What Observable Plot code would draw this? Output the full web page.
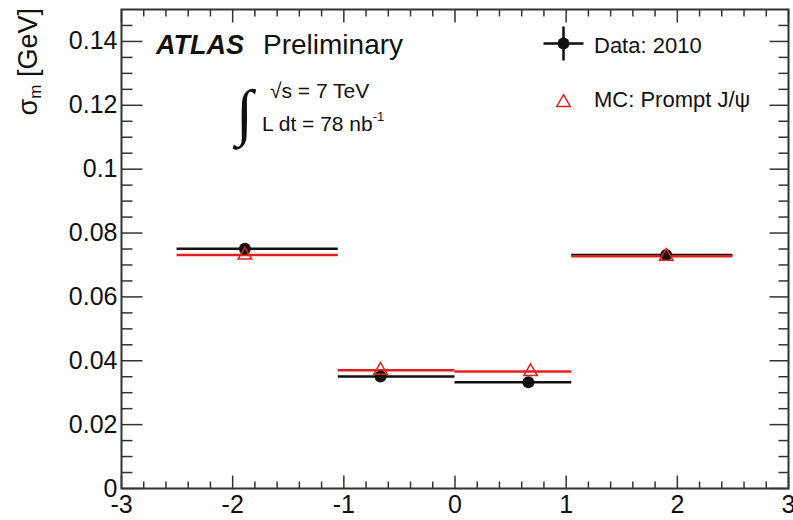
<!DOCTYPE html>
<html><head><meta charset="utf-8">
<script src="https://cdn.jsdelivr.net/npm/d3@7"></script>
<script src="https://cdn.jsdelivr.net/npm/@observablehq/plot@0.6"></script>
<style>body{margin:0;background:#fff} #chart{width:793px;height:520px}</style>
</head><body><div id="chart"></div>
<script>
// ---- data ----
const binLo = [-2.5, -1.05, 0, 1.05];
const binHi = [-1.05, 0, 1.05, 2.5];
const dataX = [-1.89, -0.67, 0.66, 1.9];
const dataY = [0.0751, 0.0351, 0.0333, 0.0731];
const mcX = [-1.89, -0.67, 0.68, 1.9];
const mcY = [0.0731, 0.0370, 0.0366, 0.0727];
const xMajor = [-3, -2, -1, 0, 1, 2, 3];
const xTickLabels = ["-3", "-2", "-1", "0", "1", "2", "3"];
const yMajor = [0, 0.02, 0.04, 0.06, 0.08, 0.1, 0.12, 0.14];
const yTickLabels = ["0", "0.02", "0.04", "0.06", "0.08", "0.1", "0.12", "0.14"];
const seriesNames = ["Data: 2010", "MC: Prompt J/\u03c8"];

const dataRows = binLo.map((lo, i) => ({lo, hi: binHi[i], x: dataX[i], y: dataY[i]}));
const mcRows = binLo.map((lo, i) => ({lo, hi: binHi[i], x: mcX[i], y: mcY[i]}));
const xMinor = d3.range(-15, 16).filter(i => i % 5 !== 0).map(i => i / 5);
const yMinor = d3.range(1, 30).filter(i => i % 4 !== 0).map(i => i * 0.005);

const BLACK = "#111", RED = "#e3211c", AX = "#333";
const FF = "'Liberation Sans', Arial, sans-serif";
const seg = (dx, dy) => ({draw(ctx) { ctx.moveTo(0, 0); ctx.lineTo(dx, dy); }});
const crossSymbol = {draw(ctx) { ctx.moveTo(-20, 0); ctx.lineTo(20, 0); ctx.moveTo(0, -17); ctx.lineTo(0, 17); }};
const tickStyle = {stroke: AX, strokeWidth: 1.5};

const plot = Plot.plot({
  width: 793, height: 520,
  marginLeft: 121, marginRight: 5, marginTop: 9, marginBottom: 32,
  x: {domain: [-3, 3]},
  y: {domain: [0, 0.15]},
  style: {fontFamily: FF, fontSize: "25px", color: "#111", background: "#fff"},
  marks: [
    // tick labels
    Plot.axisX(xMajor, {anchor: "bottom", tickSize: 0, tickPadding: 7, tickFormat: d => xTickLabels[xMajor.indexOf(d)], fontSize: 25, label: null}),
    Plot.axisY(yMajor, {anchor: "left", tickSize: 0, tickPadding: 4, tickFormat: d => yTickLabels[yMajor.indexOf(d)], fontSize: 25, label: null}),
    // ROOT style inward ticks on all four sides
    Plot.dot(xMajor, {x: d => d, frameAnchor: "bottom", symbol: seg(0, -13), ...tickStyle}),
    Plot.dot(xMinor, {x: d => d, frameAnchor: "bottom", symbol: seg(0, -7), ...tickStyle}),
    Plot.dot(xMajor, {x: d => d, frameAnchor: "top", symbol: seg(0, 13), ...tickStyle}),
    Plot.dot(xMinor, {x: d => d, frameAnchor: "top", symbol: seg(0, 7), ...tickStyle}),
    Plot.dot(yMajor, {y: d => d, frameAnchor: "left", symbol: seg(21, 0), ...tickStyle}),
    Plot.dot(yMinor, {y: d => d, frameAnchor: "left", symbol: seg(11, 0), ...tickStyle}),
    Plot.dot(yMajor, {y: d => d, frameAnchor: "right", symbol: seg(-19, 0), ...tickStyle}),
    Plot.dot(yMinor, {y: d => d, frameAnchor: "right", symbol: seg(-10, 0), ...tickStyle}),
    Plot.frame({stroke: AX, strokeWidth: 2}),
    // bin widths
    Plot.ruleY(dataRows, {y: "y", x1: "lo", x2: "hi", stroke: BLACK, strokeWidth: 2.5}),
    Plot.ruleY(mcRows, {y: "y", x1: "lo", x2: "hi", stroke: RED, strokeWidth: 2.5}),
    // points
    Plot.dot(dataRows, {x: "x", y: "y", r: 6, fill: BLACK}),
    Plot.dot(mcRows, {x: "x", y: "y", r: 5, symbol: "triangle", stroke: RED, strokeWidth: 1.5, fill: "none"}),
    // legend markers
    Plot.dot([seriesNames[0]], {frameAnchor: "top-left", dx: 442, dy: 34, symbol: crossSymbol, stroke: BLACK, strokeWidth: 2.5}),
    Plot.dot([seriesNames[0]], {frameAnchor: "top-left", dx: 442, dy: 34, r: 6, fill: BLACK}),
    Plot.dot([seriesNames[1]], {frameAnchor: "top-left", dx: 442, dy: 93, r: 5, symbol: "triangle", stroke: RED, strokeWidth: 1.5, fill: "none"})
  ]
});
document.getElementById("chart").appendChild(plot);

const svg = d3.select(plot);
const addText = (x, y, str, size, extra = {}) => {
  const t = svg.append("text").attr("x", x).attr("y", y).attr("text-anchor", "start")
    .attr("font-family", extra.family || FF).attr("font-size", size).attr("fill", "#111");
  if (extra.weight) t.attr("font-weight", extra.weight);
  if (extra.style) t.attr("font-style", extra.style);
  if (str !== null) t.text(str);
  return t;
};
// legend text
addText(594, 53, seriesNames[0], 22);
addText(594, 107, seriesNames[1], 22);
// ATLAS Preliminary
addText(156, 54, "ATLAS", 27, {weight: "bold", style: "italic"});
addText(263, 54, "Preliminary", 28);
// energy and luminosity
addText(236, 133, "\u222b", 62, {family: "'Liberation Serif', serif"});
addText(270, 98, "\u221as = 7 TeV", 21);
const lt = addText(262, 131, null, 21);
lt.append("tspan").text("L dt = 78 nb");
lt.append("tspan").attr("dy", -10).attr("font-size", 13).text("-1");
// y axis title
const yt = svg.append("text").attr("transform", "translate(37,8) rotate(-90)").attr("text-anchor", "end")
  .attr("font-family", FF).attr("font-size", 27).attr("fill", "#111");
yt.append("tspan").text("\u03c3");
yt.append("tspan").attr("dy", 4).attr("font-size", 17).text("m");
yt.append("tspan").attr("dy", -4).text(" [GeV]");
</script>
</body></html>
